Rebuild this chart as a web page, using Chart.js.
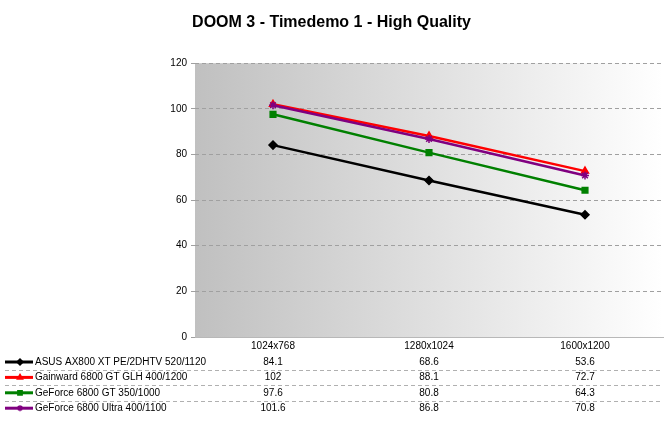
<!DOCTYPE html>
<html>
<head>
<meta charset="utf-8">
<script src="https://cdn.jsdelivr.net/npm/chart.js@4/dist/chart.umd.min.js"></script>
<style>
  html, body { margin: 0; padding: 0; background: #fff; }
  #wrap { width: 670px; height: 424px; }
</style>
</head>
<body>
<div id="wrap"><canvas id="c" width="670" height="424"></canvas></div>
<script>
const title = "DOOM 3 - Timedemo 1 - High Quality";
const categories = ["1024x768", "1280x1024", "1600x1200"];
const seriesNames = [
  "ASUS AX800 XT PE/2DHTV 520/1120",
  "Gainward 6800 GT GLH 400/1200",
  "GeForce 6800 GT 350/1000",
  "GeForce 6800 Ultra 400/1100"
];
const asusValues = [84.1, 68.6, 53.6];
const gainwardValues = [102, 88.1, 72.7];
const gtValues = [97.6, 80.8, 64.3];
const ultraValues = [101.6, 86.8, 70.8];
const yTicks = [0, 20, 40, 60, 80, 100, 120];

const seriesColors = ["#000000", "#ff0000", "#008000", "#800080"];
const seriesMarkers = ["rectRot", "triangle", "rect", "star"];
const seriesValues = [asusValues, gainwardValues, gtValues, ultraValues];

const FONT = "'Liberation Sans', Arial, sans-serif";

const bgPlugin = {
  id: "bgGradient",
  beforeDraw(chart) {
    const { ctx, chartArea: a } = chart;
    const g = ctx.createLinearGradient(a.left, 0, a.right, 0);
    g.addColorStop(0, "#c0c0c0");
    g.addColorStop(1, "#ffffff");
    ctx.save();
    ctx.fillStyle = g;
    ctx.fillRect(a.left, a.top, a.right - a.left, a.bottom - a.top);
    ctx.restore();
  }
};

const tablePlugin = {
  id: "dataTable",
  afterDraw(chart) {
    const { ctx, chartArea: a } = chart;
    const xs = chart.scales.x;
    ctx.save();
    ctx.font = "10px " + FONT;
    ctx.textBaseline = "middle";
    chart.data.datasets.forEach((ds, i) => {
      const y = a.bottom + 25 + i * 15.4;
      // legend sample
      ctx.strokeStyle = ds.borderColor;
      ctx.lineWidth = 3;
      ctx.setLineDash([]);
      ctx.beginPath();
      ctx.moveTo(5, y);
      ctx.lineTo(33, y);
      ctx.stroke();
      ctx.fillStyle = ds.borderColor;
      ctx.strokeStyle = ds.borderColor;
      ctx.lineWidth = 1.5;
      Chart.helpers.drawPoint(ctx, {
        pointStyle: ds.pointStyle, radius: 3, rotation: 0, borderWidth: 1.5
      }, 20, y);
      // name
      ctx.fillStyle = "#000";
      ctx.textAlign = "left";
      ctx.fillText(ds.label, 35, y);
      // values
      ctx.textAlign = "center";
      ds.data.forEach((v, j) => {
        ctx.fillText(String(v), xs.getPixelForValue(j), y);
      });
      // separator
      if (i < chart.data.datasets.length - 1) {
        ctx.strokeStyle = "#b0b0b0";
        ctx.lineWidth = 1;
        ctx.setLineDash([4, 3]);
        ctx.beginPath();
        ctx.moveTo(5, Math.round(y + 8) + 0.5);
        ctx.lineTo(a.right, Math.round(y + 8) + 0.5);
        ctx.stroke();
      }
    });
    ctx.restore();
  }
};

const datasets = seriesNames.map((name, i) => ({
  label: name,
  data: seriesValues[i],
  borderColor: seriesColors[i],
  backgroundColor: seriesColors[i],
  pointBackgroundColor: seriesColors[i],
  pointBorderColor: seriesColors[i],
  pointStyle: seriesMarkers[i],
  pointRadius: 4,
  pointBorderWidth: 1.5,
  borderWidth: 2.5,
  tension: 0,
  fill: false,
  order: seriesNames.length - i
}));

new Chart(document.getElementById("c"), {
  type: "line",
  data: { labels: categories, datasets },
  options: {
    responsive: false,
    animation: false,
    devicePixelRatio: 1,
    layout: { padding: { left: 0, right: 7, top: 0, bottom: 0 } },
    plugins: {
      legend: { display: false },
      tooltip: { enabled: false },
      title: {
        display: true,
        text: title,
        color: "#000",
        font: { family: FONT, size: 16, weight: "bold" },
        padding: { top: 13, bottom: 31 }
      }
    },
    scales: {
      x: {
        offset: true,
        grid: { display: false, drawTicks: false },
        border: { display: true, color: "#b8b8b8", width: 1 },
        ticks: { color: "#000", font: { family: FONT, size: 10 }, padding: 3, maxRotation: 0 },
        afterFit(scale) { scale.height = 87; }
      },
      y: {
        min: 0,
        max: 120,
        afterBuildTicks(scale) { scale.ticks = yTicks.map(v => ({ value: v })); },
        grid: {
          color: ctx => (ctx.tick && ctx.tick.value === 0) ? "rgba(0,0,0,0)" : "#a0a0a0",
          tickColor: "#a0a0a0",
          tickLength: 4,
          lineWidth: 1
        },
        border: { display: false, dash: [4, 3] },
        ticks: { color: "#000", font: { family: FONT, size: 10 }, padding: 4 },
        afterFit(scale) { scale.width = 195; }
      }
    }
  },
  plugins: [bgPlugin, tablePlugin]
});
</script>
</body>
</html>
